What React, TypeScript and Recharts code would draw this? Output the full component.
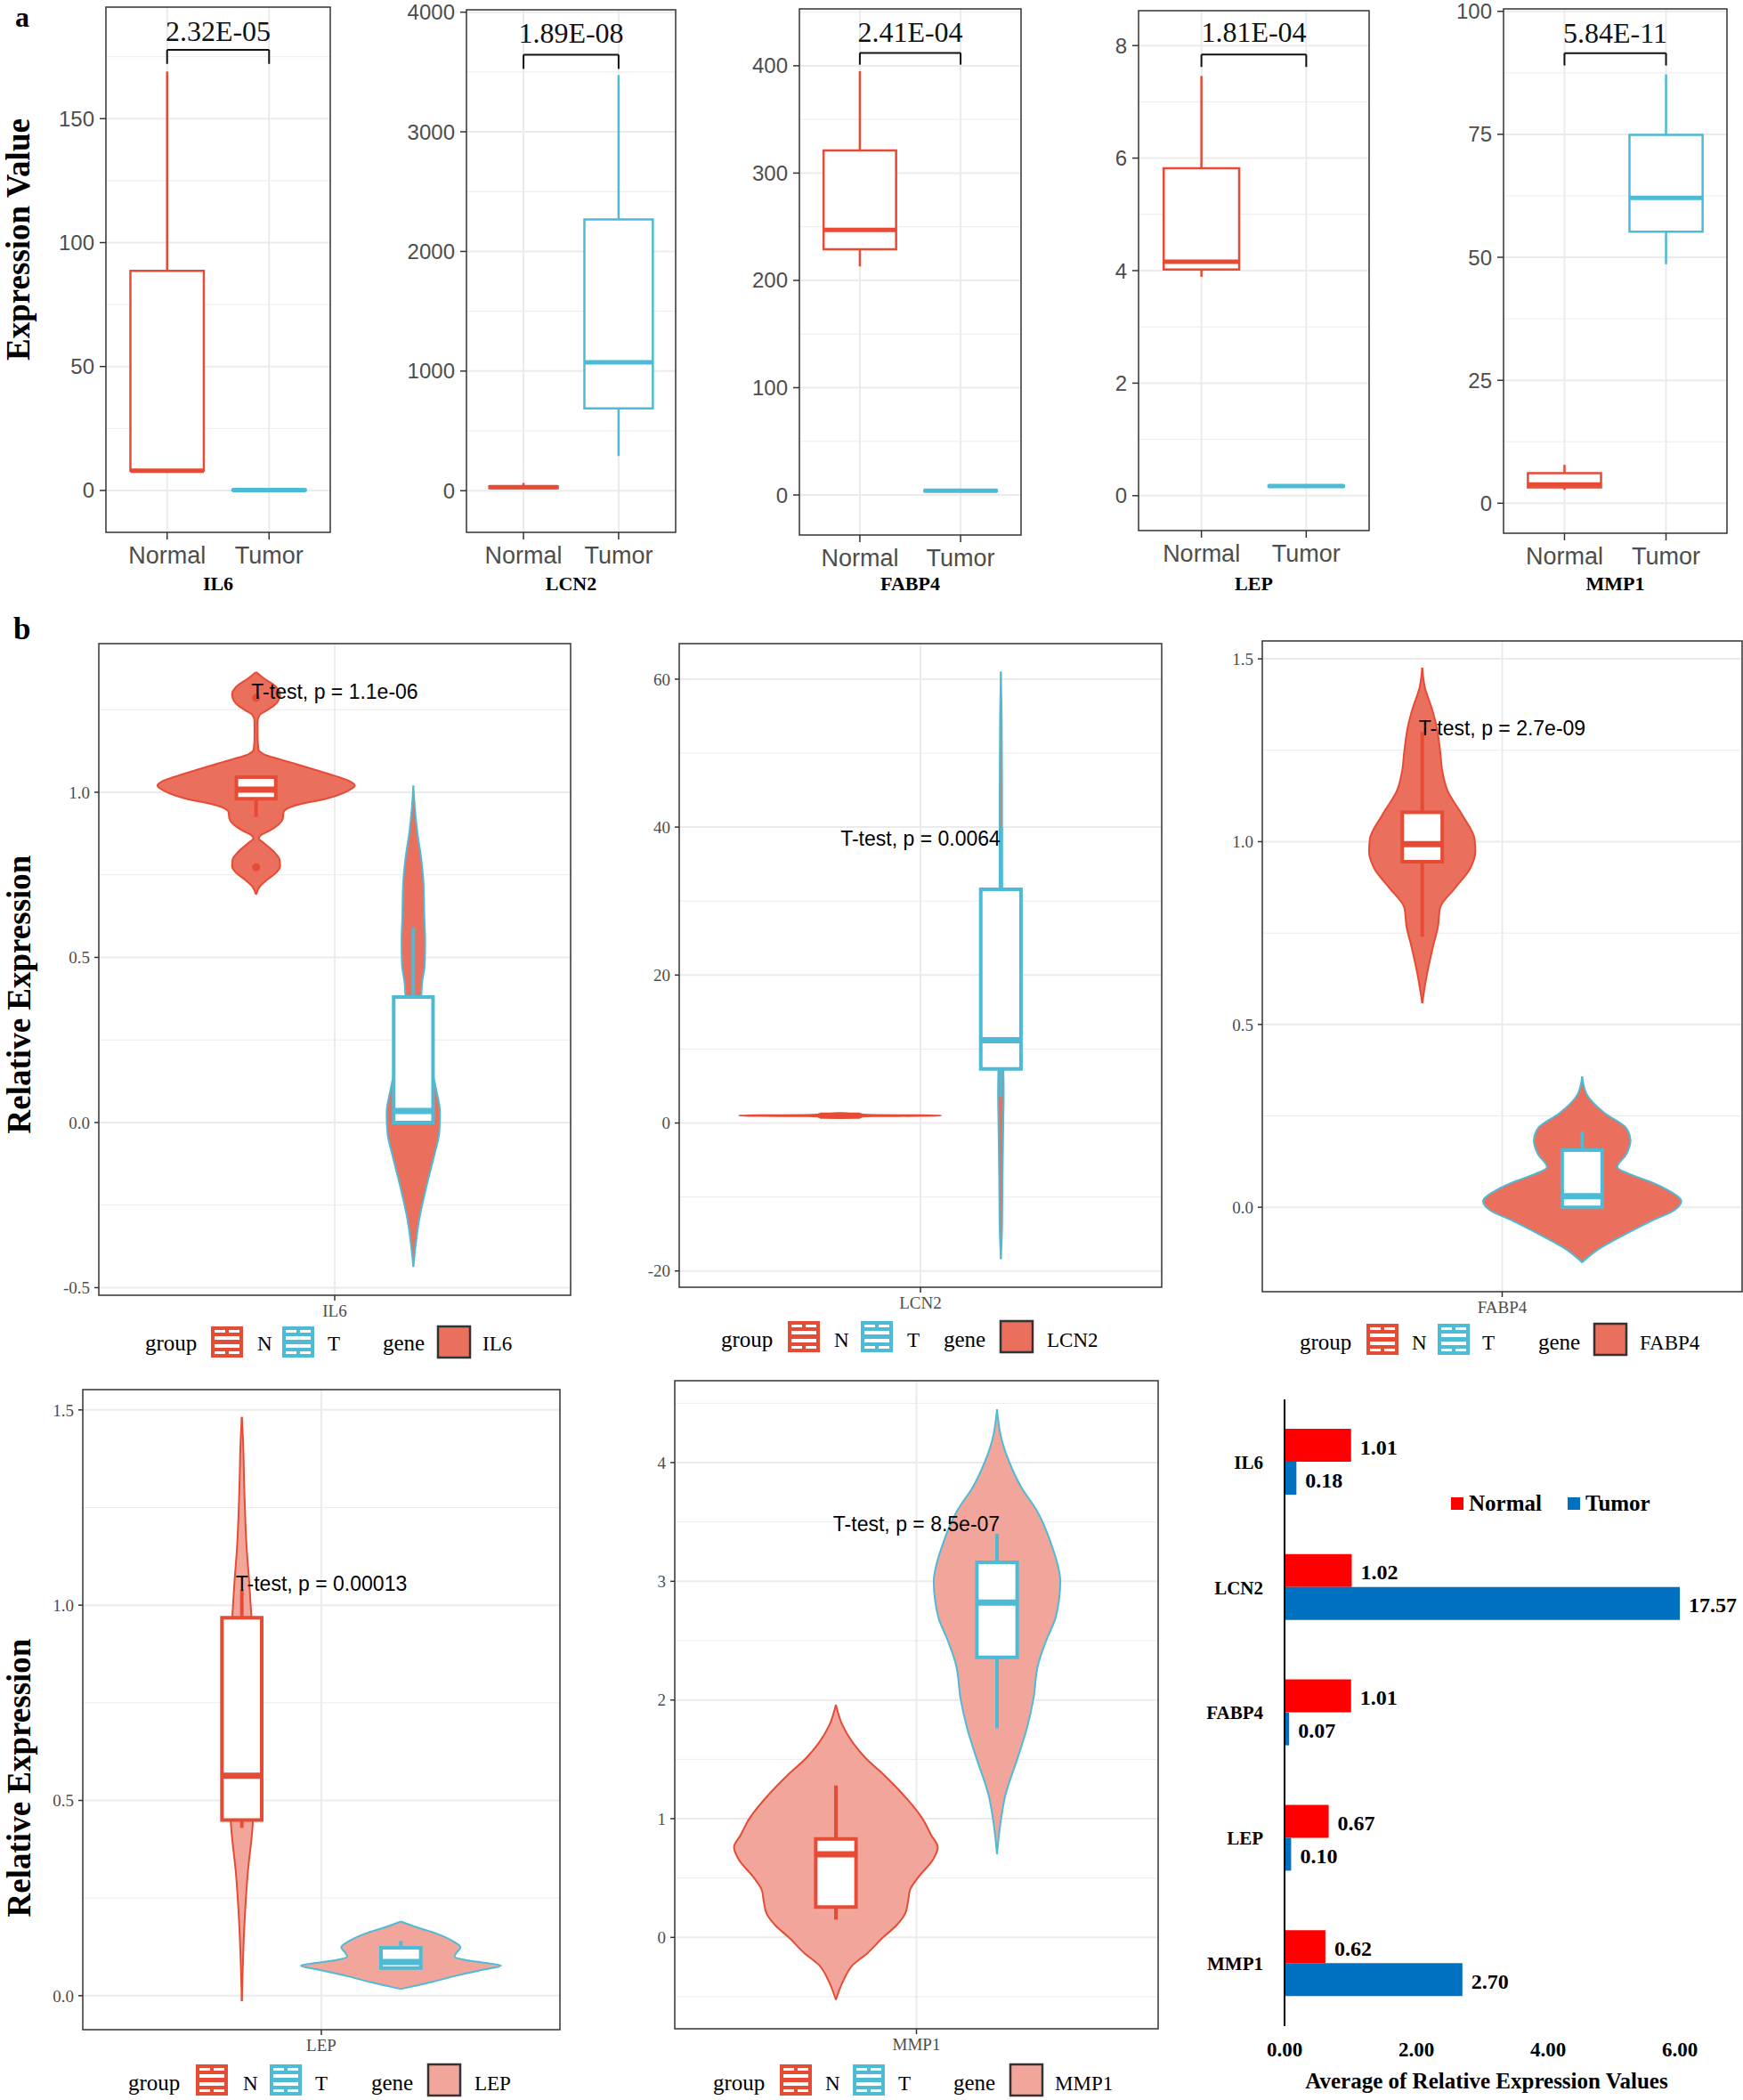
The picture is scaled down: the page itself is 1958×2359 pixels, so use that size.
import React from 'react';
import {
  ComposedChart,
  XAxis,
  YAxis,
  ReferenceLine,
  ReferenceArea,
  ReferenceDot,
  Area,
  Bar,
  LabelList,
} from 'recharts';

const SERIF = '"Liberation Serif", "Times New Roman", Times, serif';
const SANS = '"Liberation Sans", Arial, Helvetica, sans-serif';
const RED = '#E64B35';
const BLUE = '#4DBBD5';
const GRID = '#EBEBEB';
const FRAME = '#333333';
const FILL_DARK = '#EB6F5D';
const FILL_LIGHT = '#F2A69B';

// ---------------- Panel a data ----------------
const groupsA = ['Normal', 'Tumor'];
const genesA = ['IL6', 'LCN2', 'FABP4', 'LEP', 'MMP1'];
const pValuesA = ['2.32E-05', '1.89E-08', '2.41E-04', '1.81E-04', '5.84E-11'];
// [lower whisker, Q1, median, Q3, upper whisker]
const boxNormalA = [
  [8, 8, 8, 88.6, 169],
  [15, 22, 30, 38, 65],
  [213, 229, 247, 321, 395],
  [3.89, 4.02, 4.16, 5.82, 7.46],
  [2.7, 3.2, 3.8, 6.1, 7.8],
];
const boxTumorA = [
  [0, 0.1, 0.2, 0.3, 0.4],
  [290, 689, 1074, 2267, 3474],
  [3, 3.5, 4, 4.5, 5],
  [0.15, 0.16, 0.17, 0.18, 0.19],
  [48.6, 55.2, 62.1, 74.9, 87.2],
];
const yTicksA = [
  [0, 50, 100, 150],
  [0, 1000, 2000, 3000, 4000],
  [0, 100, 200, 300, 400],
  [0, 2, 4, 6, 8],
  [0, 25, 50, 75, 100],
];
const yMinorA = [
  [25, 75, 125, 175],
  [500, 1500, 2500, 3500],
  [50, 150, 250, 350, 450],
  [1, 3, 5, 7],
  [12.5, 37.5, 62.5, 87.5],
];
const yDomainA = [
  [-16.9, 195],
  [-348, 4020],
  [-37.3, 453],
  [-0.62, 8.62],
  [-6.1, 100.5],
];
// [bracket tick end, bracket line, p-value text baseline]
const bracketA = [
  [172.1, 177.8, 181.4],
  [3526, 3644, 3741],
  [401, 412, 422],
  [7.62, 7.84, 8.06],
  [89.0, 91.5, 93.7],
];

// ---------------- Panel b data ----------------
const genesB = ['IL6', 'LCN2', 'FABP4', 'LEP', 'MMP1'];
const groupsB = ['N', 'T'];
const tTestB = [
  'T-test, p = 1.1e-06',
  'T-test, p = 0.0064',
  'T-test, p = 2.7e-09',
  'T-test, p = 0.00013',
  'T-test, p = 8.5e-07',
];
const tTestY = [1.283, 37.5, 1.29, 1.036, 3.42];
const yTicksB = [
  [-0.5, 0, 0.5, 1],
  [-20, 0, 20, 40, 60],
  [0, 0.5, 1, 1.5],
  [0, 0.5, 1, 1.5],
  [0, 1, 2, 3, 4],
];
const yMinorB = [
  [-0.25, 0.25, 0.75, 1.25],
  [-10, 10, 30, 50],
  [0.25, 0.75, 1.25],
  [0.25, 0.75, 1.25],
  [-0.5, 0.5, 1.5, 2.5, 3.5, 4.5],
];
const yDomainB = [
  [-0.523, 1.45],
  [-22.2, 64.8],
  [-0.231, 1.549],
  [-0.087, 1.552],
  [-0.77, 4.69],
];
const boxNormalB = [
  [0.925, 0.98, 1.008, 1.046, 1.05],
  [0.75, 0.92, 1.0, 1.08, 1.25],
  [0.74, 0.945, 0.993, 1.08, 1.3],
  [0.43, 0.45, 0.563, 0.968, 1.04],
  [0.15, 0.255, 0.7, 0.83, 1.28],
];
const boxTumorB = [
  [0, 0, 0.035, 0.38, 0.59],
  [3.5, 7.3, 11.2, 31.6, 40],
  [0, 0, 0.03, 0.156, 0.207],
  [0.071, 0.071, 0.086, 0.123, 0.14],
  [1.76, 2.36, 2.82, 3.16, 3.4],
];
const outliersNormalB = [[1.286, 0.773], [], [], [], []];

// violin outlines: [value, half width]
const violinNormalB = [
  [[1.364, 0], [1.345, 0.02], [1.32, 0.05], [1.296, 0.061], [1.27, 0.052], [1.25, 0.03], [1.235, 0.01], [1.215, 0.004], [1.17, 0.004], [1.13, 0.006], [1.115, 0.02], [1.1, 0.06], [1.086, 0.1], [1.057, 0.18], [1.035, 0.235], [1.02, 0.251], [1.005, 0.235], [0.981, 0.18], [0.96, 0.1], [0.94, 0.07], [0.92, 0.068], [0.9, 0.055], [0.884, 0.035], [0.87, 0.012], [0.86, 0.007], [0.848, 0.018], [0.82, 0.045], [0.795, 0.06], [0.776, 0.061], [0.755, 0.05], [0.735, 0.028], [0.715, 0.01], [0.69, 0]],
  [[1.35, 0], [1.25, 0.03], [1.15, 0.05], [1.08, 0.08], [1.04, 0.2], [1.0, 0.251], [0.96, 0.2], [0.92, 0.08], [0.85, 0.05], [0.75, 0.03], [0.65, 0]],
  [[1.476, 0], [1.42, 0.007], [1.368, 0.023], [1.314, 0.036], [1.246, 0.045], [1.195, 0.05], [1.14, 0.063], [1.073, 0.1], [1.007, 0.131], [0.973, 0.133], [0.927, 0.12], [0.873, 0.082], [0.82, 0.045], [0.766, 0.039], [0.713, 0.027], [0.632, 0.011], [0.558, 0]],
  [[1.482, 0], [1.423, 0.003], [1.304, 0.006], [1.149, 0.012], [1.053, 0.019], [0.97, 0.024], [0.8, 0.03], [0.6, 0.032], [0.5, 0.03], [0.433, 0.027], [0.315, 0.015], [0.171, 0.006], [0.06, 0.002], [-0.014, 0]],
  [[1.96, 0], [1.79, 0.016], [1.64, 0.042], [1.51, 0.074], [1.36, 0.122], [1.21, 0.165], [1.01, 0.213], [0.86, 0.237], [0.76, 0.253], [0.66, 0.242], [0.5, 0.203], [0.4, 0.184], [0.3, 0.179], [0.2, 0.172], [0.1, 0.15], [0.0, 0.117], [-0.13, 0.079], [-0.24, 0.04], [-0.36, 0.019], [-0.525, 0]],
];
const violinTumorB = [
  [[1.02, 0], [0.95, 0.004], [0.88, 0.01], [0.8, 0.02], [0.72, 0.026], [0.62, 0.028], [0.55, 0.03], [0.48, 0.029], [0.42, 0.022], [0.36, 0.02], [0.3, 0.025], [0.2, 0.04], [0.1, 0.058], [0.03, 0.068], [-0.03, 0.066], [-0.1, 0.053], [-0.2, 0.032], [-0.3, 0.014], [-0.38, 0.005], [-0.437, 0]],
  [[61, 0], [55, 0.002], [45, 0.003], [35, 0.003], [25, 0.004], [15, 0.005], [8, 0.006], [4, 0.007], [0, 0.006], [-8, 0.004], [-14, 0.003], [-18.4, 0]],
  [[0.358, 0], [0.31, 0.011], [0.258, 0.056], [0.217, 0.11], [0.183, 0.121], [0.144, 0.11], [0.11, 0.088], [0.09, 0.12], [0.07, 0.17], [0.044, 0.219], [0.017, 0.248], [-0.01, 0.228], [-0.037, 0.174], [-0.078, 0.101], [-0.117, 0.038], [-0.151, 0]],
  [[0.19, 0], [0.175, 0.04], [0.16, 0.087], [0.14, 0.13], [0.124, 0.15], [0.11, 0.14], [0.1, 0.135], [0.09, 0.17], [0.077, 0.252], [0.065, 0.2], [0.05, 0.135], [0.035, 0.078], [0.025, 0.035], [0.017, 0]],
  [[4.45, 0], [4.2, 0.011], [4.0, 0.031], [3.8, 0.059], [3.6, 0.098], [3.3, 0.136], [3.0, 0.157], [2.7, 0.146], [2.5, 0.122], [2.3, 0.102], [2.0, 0.09], [1.76, 0.074], [1.5, 0.05], [1.2, 0.021], [0.95, 0.008], [0.7, 0]],
];
const lightFillB = [false, false, false, true, true];

// ---------------- Bar panel data ----------------
const barGenes = ['IL6', 'LCN2', 'FABP4', 'LEP', 'MMP1'];
const barNormal = [1.01, 1.02, 1.01, 0.67, 0.62];
const barTumor = [0.18, 17.57, 0.07, 0.1, 2.7];
const barTicks = [0, 2, 4, 6];
const barMax = 6;
const barData = barGenes.map((g, i) => ({ gene: g, Normal: barNormal[i], Tumor: barTumor[i] }));

// ---------------- layout (pixels) ----------------
const framesA = [
  [119, 371, 8, 598],
  [524, 759, 11, 598],
  [898, 1147, 10, 601],
  [1279, 1538, 12, 596],
  [1689, 1940, 10, 599],
];
const framesB = [
  [111, 641, 723, 1455],
  [763, 1305, 723, 1446],
  [1418, 1957, 720, 1451],
  [93, 629, 1561, 2280],
  [758, 1301, 1551, 2279],
];
// [group, N icon, N, T icon, T, gene, swatch, gene name], baseline, icon top
const legendsB = [
  { xs: [163, 237, 289, 317, 368, 430, 492, 542], base: 1517, top: 1490 },
  { xs: [810, 885, 937, 967, 1019, 1060, 1124, 1176], base: 1513, top: 1484 },
  { xs: [1460, 1535, 1586, 1615, 1665, 1728, 1791, 1842], base: 1516, top: 1487 },
  { xs: [144, 220, 273, 303, 354, 417, 481, 533], base: 2348, top: 2319 },
  { xs: [801, 876, 927, 958, 1009, 1071, 1135, 1185], base: 2348, top: 2319 },
];

function boxEls(key: string, c: number, h: number, b: number[], color: string, sw: number, msw: number) {
  const [wl, q1, md, q3, wu] = b;
  return [
    <ReferenceLine key={key + 'wl'} segment={[{ x: c, y: wl }, { x: c, y: q1 }]} stroke={color} strokeWidth={sw} ifOverflow="visible" zIndex={700} />,
    <ReferenceLine key={key + 'wu'} segment={[{ x: c, y: q3 }, { x: c, y: wu }]} stroke={color} strokeWidth={sw} ifOverflow="visible" zIndex={700} />,
    <ReferenceArea key={key + 'bx'} x1={c - h} x2={c + h} y1={q1} y2={q3} fill="#ffffff" fillOpacity={1} stroke={color} strokeWidth={sw} ifOverflow="visible" zIndex={710} />,
    <ReferenceLine key={key + 'md'} segment={[{ x: c - h, y: md }, { x: c + h, y: md }]} stroke={color} strokeWidth={msw} ifOverflow="visible" zIndex={720} />,
  ];
}

function gridEls(minor: number[], major: number[], xs: number[]) {
  const out: any[] = [];
  minor.forEach((v) => out.push(<ReferenceLine key={'mi' + v} y={v} stroke={GRID} strokeWidth={1} zIndex={-90} />));
  major.forEach((v) => out.push(<ReferenceLine key={'ma' + v} y={v} stroke={GRID} strokeWidth={2} zIndex={-80} />));
  xs.forEach((v) => out.push(<ReferenceLine key={'vx' + v} x={v} stroke={GRID} strokeWidth={2} zIndex={-80} />));
  return out;
}

const textShape = (txt: string, family: string, size: number, color: string) => (p: any) => (
  <text x={p.cx} y={p.cy} textAnchor="middle" fontFamily={family} fontSize={size} fill={color}>
    {txt}
  </text>
);

function PanelA({ i }: { i: number }) {
  const [x0, x1, y0, y1] = framesA[i];
  const YW = 100, MT = 24, MR = 6, XH = 50;
  const W = YW + (x1 - x0) + MR;
  const H = MT + (y1 - y0) + XH;
  const dom = yDomainA[i];
  const [bt, bl, tb] = bracketA[i];
  return (
    <div style={{ position: 'absolute', left: x0 - YW, top: y0 - MT }}>
      <ComposedChart width={W} height={H} margin={{ top: MT, right: MR, left: 0, bottom: 0 }}>
        <XAxis
          type="number"
          dataKey="x"
          domain={[0.4, 2.6]}
          ticks={[1, 2]}
          interval={0}
          allowDataOverflow
          tickFormatter={(v: number) => groupsA[Math.round(v) - 1]}
          height={XH}
          axisLine={false}
          tickSize={8}
          tickMargin={8}
          tickLine={{ stroke: FRAME, strokeWidth: 1.5 }}
          tick={{ fill: '#4d4d4d', fontSize: 27, fontFamily: SANS }}
        />
        <YAxis
          type="number"
          domain={dom}
          ticks={yTicksA[i]}
          interval={0}
          allowDataOverflow
          width={YW}
          axisLine={false}
          tickSize={7}
          tickMargin={6}
          tickLine={{ stroke: FRAME, strokeWidth: 1.5 }}
          tick={{ fill: '#4d4d4d', fontSize: 24, fontFamily: SANS }}
        />
        {gridEls(yMinorA[i], yTicksA[i], [1, 2])}
        {boxEls('n', 1, 0.36, boxNormalA[i], RED, 2.5, 5)}
        {boxEls('t', 2, 0.36, boxTumorA[i], BLUE, 2.5, 5)}
        <ReferenceLine segment={[{ x: 1, y: bl }, { x: 2, y: bl }]} stroke="#111" strokeWidth={2} zIndex={800} />
        <ReferenceLine segment={[{ x: 1, y: bt }, { x: 1, y: bl }]} stroke="#111" strokeWidth={2} zIndex={800} />
        <ReferenceLine segment={[{ x: 2, y: bt }, { x: 2, y: bl }]} stroke="#111" strokeWidth={2} zIndex={800} />
        <ReferenceDot x={1.5} y={tb} r={1} fill="none" stroke="none" zIndex={900} shape={textShape(pValuesA[i], SERIF, 32, '#111')} />
        <ReferenceArea x1={0.4} x2={2.6} y1={dom[0]} y2={dom[1]} fill="none" stroke={FRAME} strokeWidth={1.5} ifOverflow="visible" zIndex={950} />
      </ComposedChart>
    </div>
  );
}

const violinData = (arr: number[][], c: number) => arr.map(([y, h]) => ({ y, range: [c - h, c + h] }));

function PanelB({ i }: { i: number }) {
  const [x0, x1, y0, y1] = framesB[i];
  const YW = 100, MT = 12, XH = 40;
  const MR = i === 2 ? 1 : 6;
  const W = YW + (x1 - x0) + MR;
  const H = MT + (y1 - y0) + XH;
  const dom = yDomainB[i];
  const fmt = (v: number) => (i === 1 || i === 4 ? String(v) : v.toFixed(1));
  const fill = lightFillB[i] ? FILL_LIGHT : FILL_DARK;
  return (
    <div style={{ position: 'absolute', left: x0 - YW, top: y0 - MT }}>
      <ComposedChart layout="vertical" width={W} height={H} margin={{ top: MT, right: MR, left: 0, bottom: 0 }}>
        <XAxis
          type="number"
          domain={[0.4, 1.6]}
          ticks={[1]}
          interval={0}
          allowDataOverflow
          tickFormatter={() => genesB[i]}
          height={XH}
          axisLine={false}
          tickSize={6}
          tickMargin={5}
          tickLine={{ stroke: FRAME, strokeWidth: 1.5 }}
          tick={{ fill: '#4d4d4d', fontSize: 19, fontFamily: SERIF }}
        />
        <YAxis
          type="number"
          dataKey="y"
          domain={dom}
          ticks={yTicksB[i]}
          interval={0}
          allowDataOverflow
          reversed
          tickFormatter={fmt}
          width={YW}
          axisLine={false}
          tickSize={5}
          tickMargin={5}
          tickLine={{ stroke: FRAME, strokeWidth: 1.5 }}
          tick={{ fill: '#4d4d4d', fontSize: 19, fontFamily: SERIF }}
        />
        {gridEls(yMinorB[i], yTicksB[i], [1])}
        <Area
          data={violinData(violinNormalB[i], 0.8)}
          dataKey="range"
          name={groupsB[0]}
          type="monotone"
          stroke={RED}
          strokeWidth={2}
          fill={fill}
          fillOpacity={1}
          dot={false}
          activeDot={false}
          isAnimationActive={false}
          zIndex={100}
        />
        <Area
          data={violinData(violinTumorB[i], 1.2)}
          dataKey="range"
          name={groupsB[1]}
          type="monotone"
          stroke={BLUE}
          strokeWidth={2}
          fill={fill}
          fillOpacity={1}
          dot={false}
          activeDot={false}
          isAnimationActive={false}
          zIndex={100}
        />
        {boxEls('n', 0.8, 0.05, boxNormalB[i], RED, 4, 7)}
        {boxEls('t', 1.2, 0.05, boxTumorB[i], BLUE, 4, 7)}
        {outliersNormalB[i].map((v, k) => (
          <ReferenceDot key={'o' + k} x={0.8} y={v} r={4.5} fill={RED} stroke="none" zIndex={730} />
        ))}
        <ReferenceDot x={1} y={tTestY[i]} r={1} fill="none" stroke="none" zIndex={900} shape={textShape(tTestB[i], SANS, 23, '#000')} />
        <ReferenceArea x1={0.4} x2={1.6} y1={dom[0]} y2={dom[1]} fill="none" stroke={FRAME} strokeWidth={1.5} ifOverflow="visible" zIndex={950} />
      </ComposedChart>
    </div>
  );
}

const barLabel = (p: any) => {
  const vb = p.viewBox && p.viewBox.width !== undefined ? p.viewBox : p;
  const x = Number(vb.x), y = Number(vb.y), w = Number(vb.width), h = Number(vb.height);
  const v = Number(p.value);
  return (
    <text x={x + w + 10} y={y + h / 2 + 2} dominantBaseline="central" fontFamily={SERIF} fontWeight="bold" fontSize={24} fill="#000">
      {v.toFixed(2)}
    </text>
  );
};

function PanelBar() {
  const x0 = 1443, x1 = 1887, y0 = 1572, y1 = 2276;
  const YW = 130, MT = 4, MR = 68, XH = 50;
  const W = YW + (x1 - x0) + MR;
  const H = MT + (y1 - y0) + XH;
  return (
    <div style={{ position: 'absolute', left: x0 - YW, top: y0 - MT }}>
      <ComposedChart layout="vertical" data={barData} width={W} height={H} margin={{ top: MT, right: MR, left: 0, bottom: 0 }} barGap={0}>
        <XAxis
          type="number"
          domain={[0, barMax]}
          ticks={barTicks}
          interval={0}
          tickFormatter={(v: number) => v.toFixed(2)}
          axisLine={false}
          tickLine={false}
          tickSize={0}
          tickMargin={18}
          height={XH}
          tick={{ fill: '#000', fontSize: 23, fontWeight: 'bold', fontFamily: SERIF }}
        />
        <YAxis
          type="category"
          dataKey="gene"
          width={YW}
          axisLine={{ stroke: '#000', strokeWidth: 2 }}
          tickLine={false}
          tickSize={0}
          tickMargin={24}
          tick={{ fill: '#000', fontSize: 21, fontWeight: 'bold', fontFamily: SERIF }}
        />
        <Bar dataKey={(d: any) => Math.min(d.Normal, barMax)} name="Normal" fill="#FF0000" barSize={37} isAnimationActive={false}>
          <LabelList dataKey="Normal" content={barLabel} />
        </Bar>
        <Bar dataKey={(d: any) => Math.min(d.Tumor, barMax)} name="Tumor" fill="#0070C0" barSize={37} isAnimationActive={false}>
          <LabelList dataKey="Tumor" content={barLabel} />
        </Bar>
      </ComposedChart>
    </div>
  );
}

function BoxIcon({ x, y, color }: { x: number; y: number; color: string }) {
  return (
    <g>
      <rect x={x} y={y} width={36} height={35} fill={color} />
      <rect x={x + 4} y={y + 4} width={12} height={3} fill="#fff" />
      <rect x={x + 20} y={y + 4} width={12} height={3} fill="#fff" />
      <rect x={x + 4} y={y + 11} width={28} height={4} fill="#fff" />
      <rect x={x + 4} y={y + 20} width={28} height={4} fill="#fff" />
      <rect x={x + 4} y={y + 28} width={12} height={3} fill="#fff" />
      <rect x={x + 20} y={y + 28} width={12} height={3} fill="#fff" />
    </g>
  );
}

function Overlay() {
  const t = { fontFamily: SERIF, fill: '#000' } as const;
  return (
    <svg width={1958} height={2359} style={{ position: 'absolute', left: 0, top: 0, pointerEvents: 'none' }}>
      <text x={17} y={30} {...t} fontWeight="bold" fontSize={32}>a</text>
      <text x={15} y={718} {...t} fontWeight="bold" fontSize={35}>b</text>
      <text transform="translate(33,269) rotate(-90)" textAnchor="middle" {...t} fontWeight="bold" fontSize={37}>Expression Value</text>
      <text transform="translate(34,1117) rotate(-90)" textAnchor="middle" {...t} fontWeight="bold" fontSize={37}>Relative Expression</text>
      <text transform="translate(34,1997) rotate(-90)" textAnchor="middle" {...t} fontWeight="bold" fontSize={37}>Relative Expression</text>
      {genesA.map((g, i) => (
        <text key={g} x={(framesA[i][0] + framesA[i][1]) / 2} y={663} textAnchor="middle" {...t} fontWeight="bold" fontSize={22}>
          {g}
        </text>
      ))}
      {legendsB.map((L, i) => (
        <g key={'lg' + i}>
          <text x={L.xs[0]} y={L.base} {...t} fontSize={25}>group</text>
          <BoxIcon x={L.xs[1]} y={L.top} color={RED} />
          <text x={L.xs[2]} y={L.base} {...t} fontSize={23}>{groupsB[0]}</text>
          <BoxIcon x={L.xs[3]} y={L.top} color={BLUE} />
          <text x={L.xs[4]} y={L.base} {...t} fontSize={23}>{groupsB[1]}</text>
          <text x={L.xs[5]} y={L.base} {...t} fontSize={25}>gene</text>
          <rect x={L.xs[6]} y={L.top} width={36} height={35} fill={lightFillB[i] ? FILL_LIGHT : FILL_DARK} stroke="#333" strokeWidth={2.5} />
          <text x={L.xs[7]} y={L.base} {...t} fontSize={23}>{genesB[i]}</text>
        </g>
      ))}
      <rect x={1630} y={1682} width={14} height={14} fill="#FF0000" />
      <text x={1650} y={1697} {...t} fontWeight="bold" fontSize={25}>Normal</text>
      <rect x={1761} y={1682} width={14} height={14} fill="#0070C0" />
      <text x={1781} y={1697} {...t} fontWeight="bold" fontSize={25}>Tumor</text>
      <text x={1670} y={2346} textAnchor="middle" {...t} fontWeight="bold" fontSize={25}>Average of Relative Expression Values</text>
    </svg>
  );
}

export default function App() {
  return (
    <div style={{ position: 'absolute', left: 0, top: 0, width: 1958, height: 2359, background: '#fff', overflow: 'hidden' }}>
      {genesA.map((g, i) => (
        <PanelA key={'a' + g} i={i} />
      ))}
      {genesB.map((g, i) => (
        <PanelB key={'b' + g} i={i} />
      ))}
      <PanelBar />
      <Overlay />
    </div>
  );
}
